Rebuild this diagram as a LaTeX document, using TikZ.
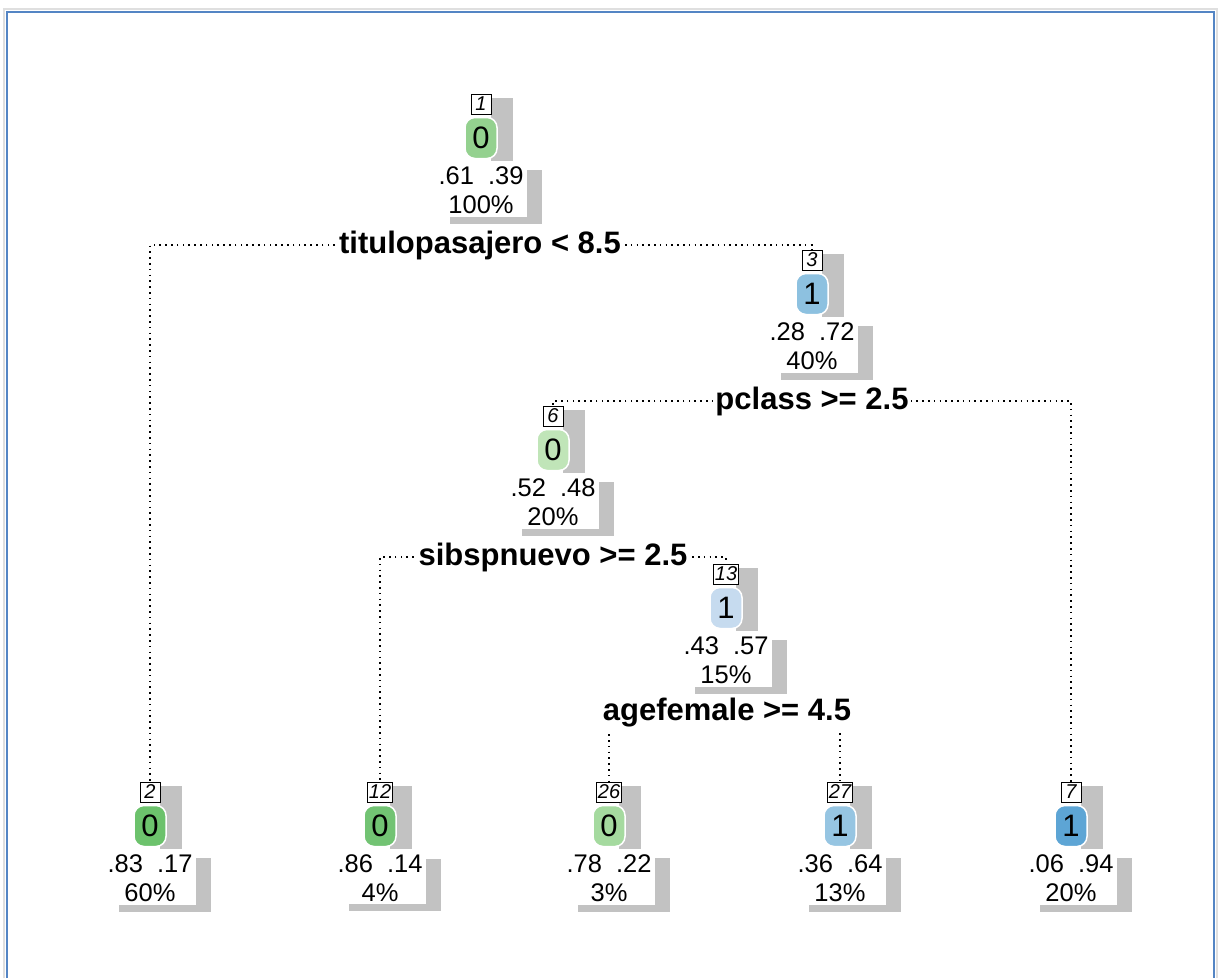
\documentclass[tikz,border=0pt]{standalone}
\usepackage{fontspec}
\setmainfont{Liberation Sans}
\usetikzlibrary{shadows}
\pgfdeclarelayer{bg}
\pgfsetlayers{bg,main}
\definecolor{framecol}{HTML}{5485C4}
\definecolor{shadowgray}{HTML}{C2C2C2}
\definecolor{gA}{HTML}{94D18F}
\definecolor{gB}{HTML}{6CC26C}
\definecolor{gC}{HTML}{72C373}
\definecolor{gD}{HTML}{C0E5B8}
\definecolor{gE}{HTML}{A5DA9F}
\definecolor{bA}{HTML}{8DC1E0}
\definecolor{bB}{HTML}{C6DBEF}
\definecolor{bC}{HTML}{96C5E2}
\definecolor{bD}{HTML}{5DA5D5}
\tikzset{
  numbox/.style={draw=black, line width=1pt, fill=white, inner sep=1.5pt,
    minimum width=20pt, minimum height=20pt, font=\fontsize{20}{20}\selectfont\itshape},
  clsbox/.style={rounded corners=10pt, draw=white, line width=1.5pt, minimum width=32pt,
    minimum height=41pt, inner sep=0pt, font=\fontsize{31}{31}\selectfont},
  txtbox/.style={fill=white, align=center, inner xsep=4pt, inner ysep=3pt,
    font=\fontsize{25.5}{29}\selectfont,
    drop shadow={shadow xshift=15pt, shadow yshift=-7pt, fill=shadowgray, opacity=1}},
  splitlbl/.style={fill=white, inner sep=2pt, font=\fontsize{31}{34}\selectfont\bfseries},
  dotline/.style={line width=1.4pt, dash pattern=on 1.6pt off 4.2pt},
}
\newcommand{\rpnode}[8]{%
  \fill[shadowgray] (#2+10,#3-6) rectangle (#2+32,#3+57);
  \node[numbox] (#1n) at (#2,#3) {#4};
  \node[clsbox, fill=#6] (#1c) at (#2,#3+34) {#5};
  \node[txtbox] (#1t) at (#2,#3+86) {#7\\#8};
}
\begin{document}
\begin{tikzpicture}[x=1pt,y=-1pt]
\useasboundingbox (0,0) rectangle (1221,978);
\begin{pgfonlayer}{bg}
\fill[white] (0,0) rectangle (1221,978);
\end{pgfonlayer}
% frame
\draw[gray!25, line width=1.5pt] (4,978) -- (4,9) -- (1217,9) -- (1217,978);
\draw[framecol, line width=2.2pt] (7,978) -- (7,12) -- (1214,12) -- (1214,978);

% tree nodes
\rpnode{a}{481}{104}{1}{0}{gA}{.61\hspace{0.55em}.39}{100\%}
\rpnode{c}{812}{260}{3}{1}{bA}{.28\hspace{0.55em}.72}{40\%}
\rpnode{f}{553}{416}{6}{0}{gD}{.52\hspace{0.55em}.48}{20\%}
\rpnode{m}{726}{574}{13}{1}{bB}{.43\hspace{0.55em}.57}{15\%}
\rpnode{b}{150}{792}{2}{0}{gB}{.83\hspace{0.55em}.17}{60\%}
\rpnode{l}{380}{792}{12}{0}{gC}{.86\hspace{0.55em}.14}{4\%}
\rpnode{z}{609}{792}{26}{0}{gE}{.78\hspace{0.55em}.22}{3\%}
\rpnode{y}{840}{792}{27}{1}{bC}{.36\hspace{0.55em}.64}{13\%}
\rpnode{g}{1071}{792}{7}{1}{bD}{.06\hspace{0.55em}.94}{20\%}

% split labels
\node[splitlbl] (s1) at (480,245) {titulopasajero < 8.5};
\node[splitlbl] (s2) at (812,401) {pclass >= 2.5};
\node[splitlbl] (s3) at (553,557) {sibspnuevo >= 2.5};
\node[splitlbl] (s4) at (727,713) {agefemale >= 4.5};

% connectors
\begin{pgfonlayer}{bg}
\draw[dotline] (s1.center) -| (bn.north);
\draw[dotline] (s1.center) -| (cn.north);
\draw[dotline] (s2.center) -| (fn.north);
\draw[dotline] (s2.center) -| (gn.north);
\draw[dotline] (s3.center) -| (ln.north);
\draw[dotline] (s3.center) -| (mn.north);
\draw[dotline] (s4.center) -| (zn.north);
\draw[dotline] (s4.center) -| (yn.north);
\end{pgfonlayer}
\end{tikzpicture}
\end{document}
